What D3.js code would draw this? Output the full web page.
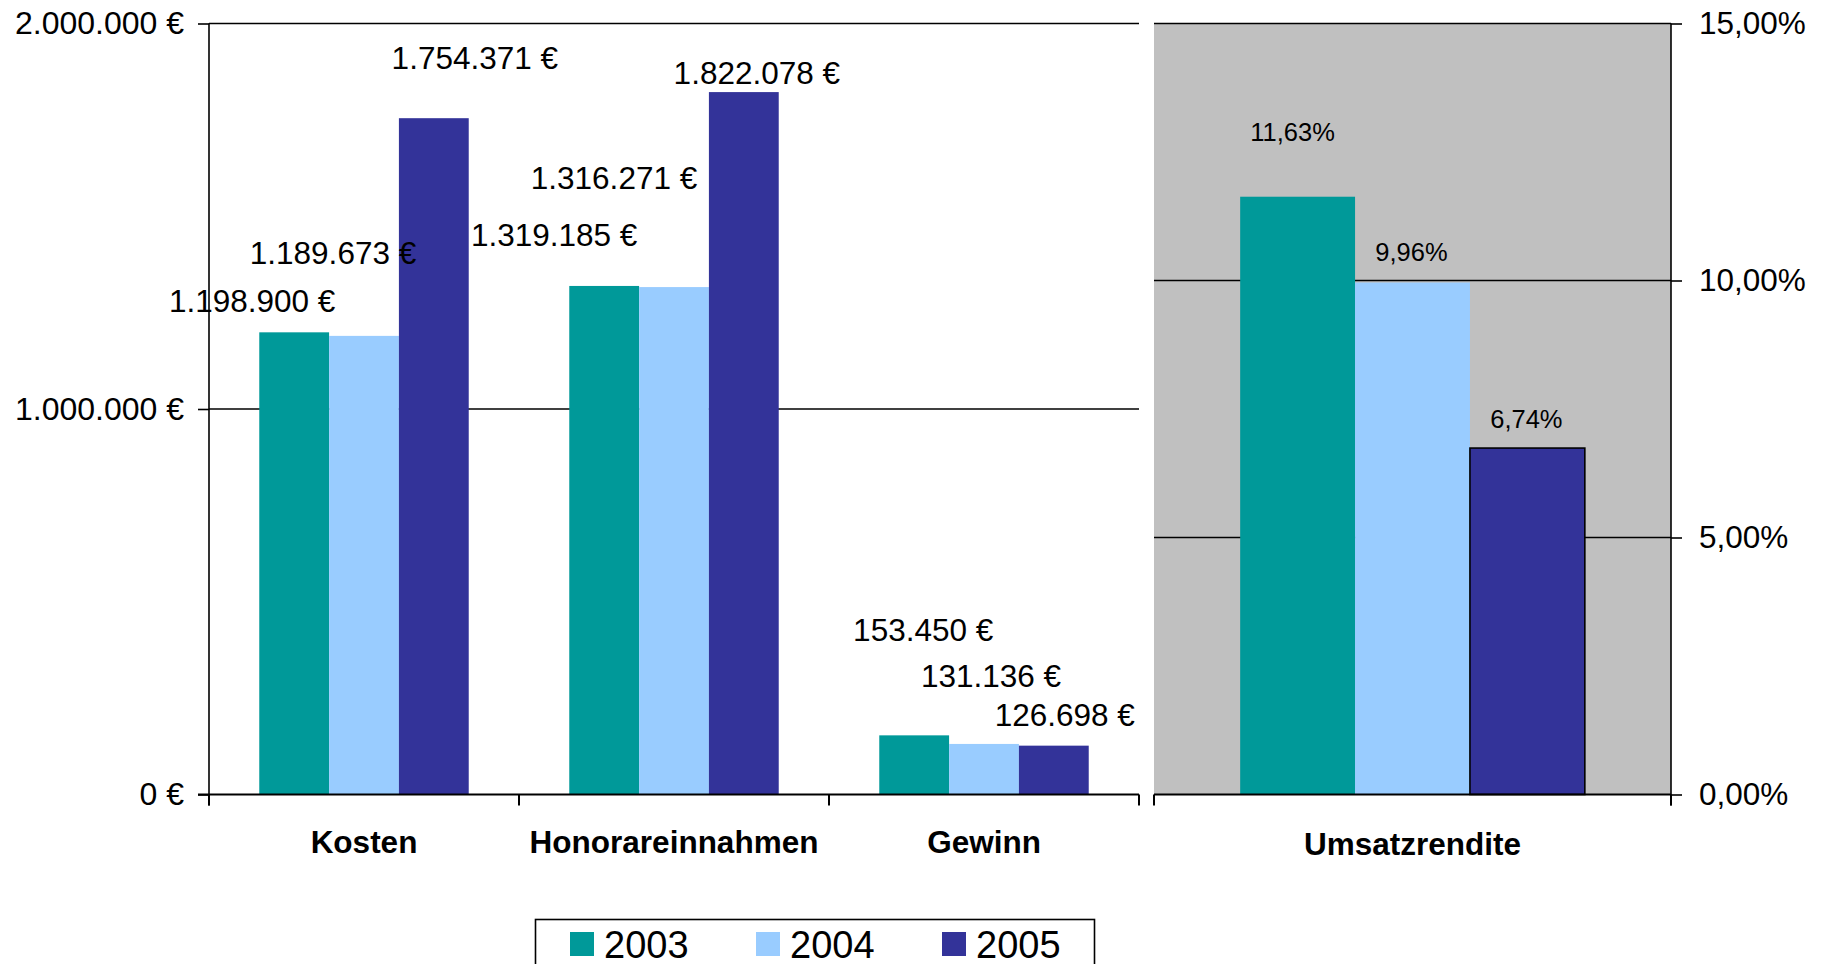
<!DOCTYPE html>
<html>
<head>
<meta charset="utf-8">
<script src="https://cdnjs.cloudflare.com/ajax/libs/d3/7.8.5/d3.min.js"></script>
<style>
  html, body { margin: 0; padding: 0; background: #ffffff; }
  svg { display: block; font-family: "Liberation Sans", Arial, sans-serif; }
</style>
</head>
<body>
<svg id="chart" width="1826" height="964"></svg>
<script>
// ---- data ----
const categories = ["Kosten", "Honorareinnahmen", "Gewinn"];
const years = ["2003", "2004", "2005"];
const values2003 = [1198900, 1319185, 153450];
const values2004 = [1189673, 1316271, 131136];
const values2005 = [1754371, 1822078, 126698];
const rateCategory = ["Umsatzrendite"];
const rateValues = [11.63, 9.96, 6.74];
const euroTicks = [0, 1000000, 2000000];
const rateTicks = [0, 5, 10, 15];

// ---- styling / layout ----
const colors = ["#009999", "#99CCFF", "#333399"];
// label nudges (dx, dy from the top centre of each bar), one row per category
const euroLabelDx = [[-42, -31, 41], [-50, -60, 13], [9, 7, 11]];
const euroLabelDy = [[-31, -83, -60], [-51, -109, -19], [-105, -68, -31]];
const rateLabelDx = [-5, -1, -1];
const rateLabelDy = [-65, -30, -29];

const de = d3.formatLocale({ decimal: ",", thousands: ".", grouping: [3], currency: ["", " €"] });
const fmtEuro = v => de.format(",.0f")(v) + " €";
const fmtRate = v => de.format(".2f")(v) + "%";

const svg = d3.select("#chart");
const plotTop = 23.5, plotBase = 794.5;

// ---- left panel: euro values ----
const xCat = d3.scaleBand().domain(categories).range([209, 1139]).padding(0);
const gapL = 1.44;
const bwL = xCat.bandwidth() / (3 + gapL);
const xYear = d3.scaleBand().domain(years)
  .range([bwL * gapL / 2, xCat.bandwidth() - bwL * gapL / 2]).padding(0);
const yEuro = d3.scaleLinear().domain([0, 2000000]).range([plotBase, plotTop]);

const seriesEuro = [values2003, values2004, values2005];
const euroRows = [];
categories.forEach((c, ci) => {
  years.forEach((yr, si) => {
    euroRows.push({ cat: c, ci, year: yr, si, value: seriesEuro[si][ci] });
  });
});

// grid lines
svg.append("g").selectAll("line")
  .data(euroTicks.filter(t => t > 0))
  .join("line")
  .attr("x1", xCat.range()[0]).attr("x2", xCat.range()[1])
  .attr("y1", d => yEuro(d)).attr("y2", d => yEuro(d))
  .attr("stroke", "#000").attr("stroke-width", 1.6);

// bars
svg.append("g").selectAll("rect")
  .data(euroRows)
  .join("rect")
  .attr("x", d => xCat(d.cat) + xYear(d.year))
  .attr("width", xYear.bandwidth())
  .attr("y", d => yEuro(d.value))
  .attr("height", d => yEuro(0) - yEuro(d.value))
  .attr("fill", d => colors[d.si]);

// value labels
svg.append("g").selectAll("text")
  .data(euroRows)
  .join("text")
  .attr("x", d => xCat(d.cat) + xYear(d.year) + xYear.bandwidth() / 2 + euroLabelDx[d.ci][d.si])
  .attr("y", d => yEuro(d.value) + euroLabelDy[d.ci][d.si])
  .attr("dy", "0.35em")
  .attr("text-anchor", "middle")
  .attr("font-size", 31.5)
  .attr("fill", "#000")
  .text(d => fmtEuro(d.value));

// left value axis
const axisL = svg.append("g")
  .attr("transform", `translate(${xCat.range()[0]},0)`)
  .call(d3.axisLeft(yEuro).tickValues(euroTicks).tickSize(11).tickPadding(14).tickFormat(fmtEuro));
axisL.select(".domain").remove();
axisL.selectAll(".tick line").attr("stroke", "#000").attr("stroke-width", 1.6);
axisL.selectAll(".tick text").attr("font-size", 32).attr("fill", "#000")
  .attr("font-family", "Liberation Sans, Arial, sans-serif");
svg.append("line")
  .attr("x1", xCat.range()[0]).attr("x2", xCat.range()[0])
  .attr("y1", yEuro(2000000)).attr("y2", yEuro(0) + 11)
  .attr("stroke", "#000").attr("stroke-width", 1.6);

// category axis
svg.append("line")
  .attr("x1", xCat.range()[0] - 11).attr("x2", xCat.range()[1])
  .attr("y1", yEuro(0)).attr("y2", yEuro(0))
  .attr("stroke", "#000").attr("stroke-width", 2.2);
svg.append("g").selectAll("line")
  .data(d3.range(categories.length + 1))
  .join("line")
  .attr("x1", i => xCat.range()[0] + i * xCat.step())
  .attr("x2", i => xCat.range()[0] + i * xCat.step())
  .attr("y1", yEuro(0)).attr("y2", yEuro(0) + 11)
  .attr("stroke", "#000").attr("stroke-width", 2);
const axisB = svg.append("g")
  .attr("transform", `translate(0,${yEuro(0)})`)
  .call(d3.axisBottom(xCat).tickSize(0).tickPadding(36));
axisB.select(".domain").remove();
axisB.selectAll(".tick text").attr("font-size", 31.5).attr("font-weight", "bold").attr("fill", "#000")
  .attr("font-family", "Liberation Sans, Arial, sans-serif");

// ---- right panel: return on sales ----
const xRate = d3.scaleBand().domain(rateCategory).range([1154, 1671]).padding(0);
const gapR = 1.5;
const bwR = xRate.bandwidth() / (3 + gapR);
const xYearR = d3.scaleBand().domain(years)
  .range([bwR * gapR / 2, xRate.bandwidth() - bwR * gapR / 2]).padding(0);
const yRate = d3.scaleLinear().domain([0, 15]).range([plotBase, plotTop]);

const rateRows = years.map((yr, si) => ({ cat: rateCategory[0], year: yr, si, value: rateValues[si] }));

svg.append("rect")
  .attr("x", xRate.range()[0]).attr("y", yRate(15))
  .attr("width", xRate.range()[1] - xRate.range()[0])
  .attr("height", yRate(0) - yRate(15))
  .attr("fill", "#C0C0C0");

svg.append("g").selectAll("line")
  .data(rateTicks.filter(t => t > 0))
  .join("line")
  .attr("x1", xRate.range()[0]).attr("x2", xRate.range()[1])
  .attr("y1", d => yRate(d)).attr("y2", d => yRate(d))
  .attr("stroke", "#000").attr("stroke-width", 1.6);

svg.append("g").selectAll("rect")
  .data(rateRows)
  .join("rect")
  .attr("x", d => xRate(d.cat) + xYearR(d.year))
  .attr("width", xYearR.bandwidth())
  .attr("y", d => yRate(d.value))
  .attr("height", d => yRate(0) - yRate(d.value))
  .attr("fill", d => colors[d.si])
  .attr("stroke", d => d.si === 2 ? "#000" : "none")
  .attr("stroke-width", 1.6);

svg.append("g").selectAll("text")
  .data(rateRows)
  .join("text")
  .attr("x", d => xRate(d.cat) + xYearR(d.year) + xYearR.bandwidth() / 2 + rateLabelDx[d.si])
  .attr("y", d => yRate(d.value) + rateLabelDy[d.si])
  .attr("dy", "0.35em")
  .attr("text-anchor", "middle")
  .attr("font-size", 25.5)
  .attr("fill", "#000")
  .text(d => fmtRate(d.value));

const axisR = svg.append("g")
  .attr("transform", `translate(${xRate.range()[1]},0)`)
  .call(d3.axisRight(yRate).tickValues(rateTicks).tickSize(11).tickPadding(17).tickFormat(fmtRate));
axisR.select(".domain").remove();
axisR.selectAll(".tick line").attr("stroke", "#000").attr("stroke-width", 1.6);
axisR.selectAll(".tick text").attr("font-size", 31.5).attr("fill", "#000")
  .attr("font-family", "Liberation Sans, Arial, sans-serif");
svg.append("line")
  .attr("x1", xRate.range()[1]).attr("x2", xRate.range()[1])
  .attr("y1", yRate(15)).attr("y2", yRate(0) + 11)
  .attr("stroke", "#000").attr("stroke-width", 1.6);

svg.append("line")
  .attr("x1", xRate.range()[0]).attr("x2", xRate.range()[1])
  .attr("y1", yRate(0)).attr("y2", yRate(0))
  .attr("stroke", "#000").attr("stroke-width", 2.2);
svg.append("g").selectAll("line")
  .data(d3.range(rateCategory.length + 1))
  .join("line")
  .attr("x1", i => xRate.range()[0] + i * xRate.step())
  .attr("x2", i => xRate.range()[0] + i * xRate.step())
  .attr("y1", yRate(0)).attr("y2", yRate(0) + 11)
  .attr("stroke", "#000").attr("stroke-width", 2);
const axisBR = svg.append("g")
  .attr("transform", `translate(0,${yRate(0)})`)
  .call(d3.axisBottom(xRate).tickSize(0).tickPadding(38));
axisBR.select(".domain").remove();
axisBR.selectAll(".tick text").attr("font-size", 31.5).attr("font-weight", "bold").attr("fill", "#000")
  .attr("font-family", "Liberation Sans, Arial, sans-serif");

// ---- legend ----
const legend = svg.append("g");
legend.append("rect")
  .attr("x", 535.5).attr("y", 919.5).attr("width", 559).attr("height", 60)
  .attr("fill", "#fff").attr("stroke", "#000").attr("stroke-width", 1.6);
const xLegend = d3.scalePoint().domain(years).range([570, 942]);
const items = legend.selectAll("g.item").data(years).join("g").attr("class", "item")
  .attr("transform", d => `translate(${xLegend(d)},932)`);
items.append("rect").attr("width", 24).attr("height", 24).attr("fill", (d, i) => colors[i]);
items.append("text").attr("x", 34).attr("y", 12).attr("dy", "0.36em")
  .attr("font-size", 38).attr("fill", "#000").text(d => d);
</script>
</body>
</html>
